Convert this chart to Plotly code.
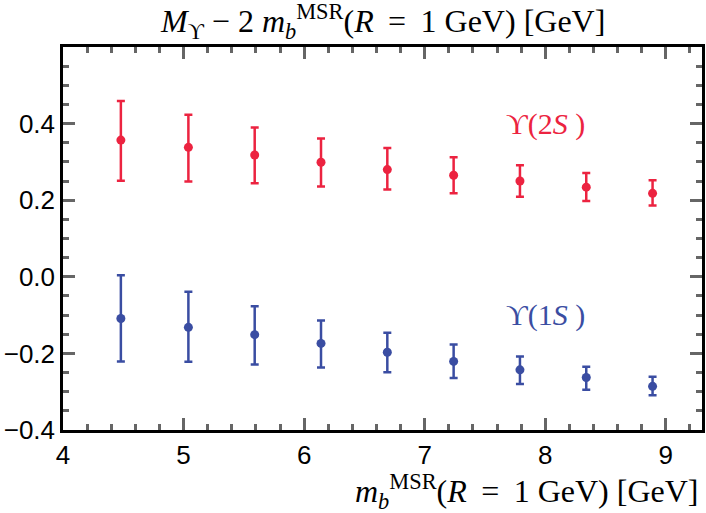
import plotly.graph_objects as go

# m_b^MSR(R = 1 GeV) values [GeV]
mb = [4.48, 5.04, 5.59, 6.14, 6.69, 7.24, 7.79, 8.34, 8.89]

# Upsilon(2S): central value, upper and lower ends of error bar
y2s = [0.357, 0.338, 0.318, 0.299, 0.280, 0.265, 0.250, 0.234, 0.218]
y2s_hi = [0.459, 0.423, 0.390, 0.361, 0.336, 0.312, 0.291, 0.271, 0.252]
y2s_lo = [0.251, 0.249, 0.244, 0.236, 0.228, 0.218, 0.209, 0.198, 0.186]

# Upsilon(1S)
y1s = [-0.109, -0.132, -0.151, -0.174, -0.197, -0.221, -0.243, -0.263, -0.286]
y1s_hi = [0.004, -0.039, -0.077, -0.114, -0.146, -0.177, -0.208, -0.235, -0.261]
y1s_lo = [-0.221, -0.222, -0.229, -0.237, -0.249, -0.264, -0.280, -0.295, -0.309]

x_ticks = [4, 5, 6, 7, 8, 9]
y_ticks = [-0.4, -0.2, 0.0, 0.2, 0.4]

RED = "#EC2340"
BLUE = "#3A4DA2"

fig = go.Figure()

def add_series(y, hi, lo, color):
    fig.add_trace(go.Scatter(
        x=mb, y=y, mode="markers",
        marker=dict(color=color, size=9),
        error_y=dict(type="data", symmetric=False,
                     array=[h - c for h, c in zip(hi, y)],
                     arrayminus=[c - l for c, l in zip(y, lo)],
                     color=color, thickness=2.5, width=4),
        showlegend=False, hoverinfo="skip"))

add_series(y2s, y2s_hi, y2s_lo, RED)
add_series(y1s, y1s_hi, y1s_lo, BLUE)

serif = "Liberation Serif"
sans = "Liberation Sans"

axis_common = dict(
    showline=True, linecolor="black", linewidth=2.5, mirror="ticks",
    ticks="inside", ticklen=12, tickwidth=2.5, tickcolor="#666666",
    showgrid=False, zeroline=False, automargin=False,
    tickfont=dict(family=sans, size=26, color="black"),
)

fig.update_xaxes(range=[4, 9.3], tickvals=x_ticks, ticktext=[str(v) for v in x_ticks],
                 minor=dict(dtick=0.2, tick0=4, ticks="inside", ticklen=6,
                            tickwidth=2.5, tickcolor="#666666"),
                 **axis_common)
fig.update_yaxes(range=[-0.4, 0.6], tickvals=y_ticks,
                 ticktext=[("\u2212" if v < 0 else "") + f"{abs(v):.1f}" for v in y_ticks],
                 minor=dict(dtick=0.05, tick0=0, ticks="inside", ticklen=6,
                            tickwidth=2.5, tickcolor="#666666"),
                 **axis_common)

fig.add_annotation(text="\u03d2(2<i>S</i> )", x=8.0, y=0.40, xref="x", yref="y",
                   showarrow=False, font=dict(family=serif, size=30, color=RED))
fig.add_annotation(text="\u03d2(1<i>S</i> )", x=8.0, y=-0.10, xref="x", yref="y",
                   showarrow=False, font=dict(family=serif, size=30, color=BLUE))

fig.add_annotation(
    text="<i>M</i><sub>\u03d2</sub> \u2212 2 <i>m</i><sub><i>b</i></sub><sup>MSR</sup>(<i>R</i>\u2009 = \u20091 GeV) [GeV]",
    x=0.5, y=1, xref="paper", yref="paper", xanchor="center", yanchor="middle",
    yshift=26, showarrow=False, font=dict(family=serif, size=32, color="black"))
fig.add_annotation(
    text="<i>m</i><sub><i>b</i></sub><sup>MSR</sup>(<i>R</i>\u2009 = \u20091 GeV) [GeV]",
    x=1, y=0, xref="paper", yref="paper", xanchor="right", yanchor="middle",
    yshift=-61, xshift=-2, showarrow=False, font=dict(family=serif, size=32, color="black"))

fig.update_layout(
    width=706, height=513,
    margin=dict(l=63, r=4, t=47, b=83),
    plot_bgcolor="white", paper_bgcolor="white",
)

fig.write_html("out.html", config={"displayModeBar": False},
               post_script="document.body.style.margin='0';")
